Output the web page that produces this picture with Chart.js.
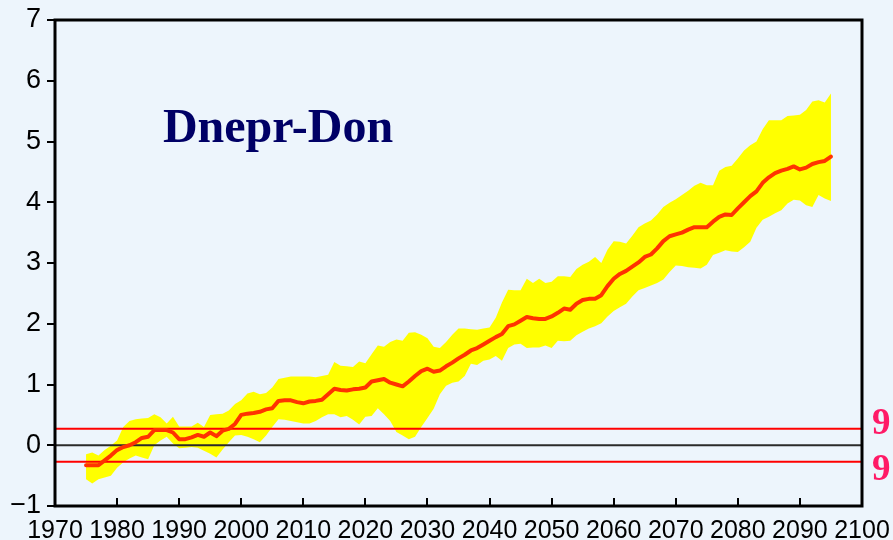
<!DOCTYPE html>
<html><head><meta charset="utf-8">
<script src="https://cdn.jsdelivr.net/npm/chart.js@4/dist/chart.umd.min.js"></script>
<style>html,body{margin:0;padding:0;background:#edf5fc;}#wrap{width:893px;height:540px;}</style>
</head><body><div id="wrap"><canvas id="c" width="893" height="540"></canvas></div>
<script>
const years = [1975,1976,1977,1978,1979,1980,1981,1982,1983,1984,1985,1986,1987,1988,1989,1990,1991,1992,1993,1994,1995,1996,1997,1998,1999,2000,2001,2002,2003,2004,2005,2006,2007,2008,2009,2010,2011,2012,2013,2014,2015,2016,2017,2018,2019,2020,2021,2022,2023,2024,2025,2026,2027,2028,2029,2030,2031,2032,2033,2034,2035,2036,2037,2038,2039,2040,2041,2042,2043,2044,2045,2046,2047,2048,2049,2050,2051,2052,2053,2054,2055,2056,2057,2058,2059,2060,2061,2062,2063,2064,2065,2066,2067,2068,2069,2070,2071,2072,2073,2074,2075,2076,2077,2078,2079,2080,2081,2082,2083,2084,2085,2086,2087,2088,2089,2090,2091,2092,2093,2094,2095];
const meanAnomaly = [-0.33,-0.33,-0.33,-0.25,-0.17,-0.08,-0.03,0.00,0.05,0.12,0.14,0.25,0.25,0.25,0.21,0.10,0.10,0.13,0.17,0.14,0.21,0.15,0.24,0.27,0.35,0.50,0.52,0.53,0.55,0.59,0.61,0.73,0.74,0.74,0.71,0.69,0.72,0.73,0.75,0.84,0.93,0.91,0.90,0.92,0.93,0.95,1.05,1.07,1.09,1.03,1.00,0.97,1.05,1.14,1.22,1.26,1.21,1.23,1.30,1.36,1.43,1.49,1.56,1.60,1.66,1.72,1.78,1.83,1.96,1.99,2.05,2.11,2.09,2.08,2.08,2.12,2.18,2.25,2.23,2.33,2.39,2.41,2.41,2.47,2.62,2.74,2.82,2.87,2.94,3.01,3.10,3.14,3.24,3.36,3.44,3.47,3.50,3.55,3.59,3.59,3.59,3.68,3.76,3.80,3.79,3.90,4.00,4.10,4.18,4.32,4.41,4.48,4.52,4.55,4.59,4.54,4.57,4.63,4.66,4.68,4.75];
const upperBound = [-0.15,-0.12,-0.17,-0.08,-0.01,0.08,0.30,0.40,0.43,0.44,0.45,0.51,0.46,0.36,0.47,0.31,0.31,0.31,0.37,0.30,0.50,0.51,0.52,0.57,0.68,0.74,0.85,0.88,0.84,0.86,0.95,1.09,1.11,1.13,1.13,1.13,1.13,1.12,1.14,1.16,1.37,1.31,1.30,1.29,1.38,1.35,1.50,1.64,1.62,1.70,1.74,1.72,1.85,1.86,1.82,1.76,1.62,1.60,1.70,1.82,1.92,1.92,1.91,1.90,1.92,1.94,2.10,2.35,2.56,2.55,2.55,2.74,2.67,2.74,2.67,2.69,2.78,2.78,2.77,2.90,2.97,3.02,3.10,3.00,3.22,3.36,3.35,3.32,3.45,3.59,3.65,3.70,3.80,3.92,3.99,4.05,4.12,4.19,4.27,4.32,4.28,4.28,4.52,4.58,4.60,4.72,4.85,4.94,5.00,5.20,5.35,5.35,5.35,5.42,5.43,5.44,5.52,5.66,5.68,5.64,5.79];
const lowerBound = [-0.56,-0.63,-0.56,-0.53,-0.50,-0.37,-0.28,-0.22,-0.17,-0.20,-0.23,0.00,0.08,0.14,0.03,-0.05,-0.04,-0.03,-0.04,-0.09,-0.14,-0.20,-0.07,0.05,0.16,0.17,0.14,0.10,0.05,0.16,0.30,0.43,0.42,0.40,0.38,0.36,0.36,0.40,0.46,0.51,0.51,0.46,0.48,0.42,0.34,0.47,0.48,0.61,0.51,0.40,0.22,0.16,0.10,0.14,0.30,0.45,0.60,0.84,0.98,1.03,1.05,1.14,1.34,1.32,1.39,1.41,1.47,1.39,1.60,1.66,1.67,1.60,1.61,1.61,1.64,1.60,1.72,1.71,1.72,1.81,1.87,1.92,1.96,2.01,2.12,2.21,2.27,2.33,2.45,2.55,2.59,2.63,2.67,2.73,2.85,2.96,2.95,2.93,2.92,2.91,2.97,3.13,3.17,3.21,3.19,3.18,3.26,3.35,3.58,3.71,3.76,3.82,3.87,3.98,4.04,4.03,3.95,3.92,4.12,4.06,4.02];
const thresholds = [0.27, -0.27];
const thresholdLabels = ['9', '9'];
const zeroLine = [0];
const xRange = [1970, 2100];
const xTicks = [1970,1980,1990,2000,2010,2020,2030,2040,2050,2060,2070,2080,2090,2100];
const yTicks = [-1,0,1,2,3,4,5,6,7];
const titleText = 'Dnepr-Don';

const pts = arr => years.map((y, i) => ({x: y, y: arr[i]}));
const hline = v => xRange.map(x => ({x: x, y: v}));

const decor = {
  id: 'decor',
  beforeDraw(chart) {
    const ctx = chart.ctx;
    ctx.save();
    ctx.fillStyle = '#edf5fc';
    ctx.fillRect(0, 0, chart.width, chart.height);
    ctx.restore();
  },
  afterDraw(chart) {
    const ctx = chart.ctx, a = chart.chartArea, xs = chart.scales.x, ys = chart.scales.y;
    ctx.save();
    ctx.strokeStyle = '#000';
    ctx.lineWidth = 3;
    ctx.strokeRect(a.left, a.top, a.right - a.left, a.bottom - a.top);
    ctx.lineWidth = 2;
    ctx.beginPath();
    xTicks.forEach(t => {
      const px = Math.round(xs.getPixelForValue(t));
      ctx.moveTo(px, a.bottom);
      ctx.lineTo(px, a.bottom - 8);
    });
    ctx.stroke();
    ctx.fillStyle = '#000066';
    ctx.font = 'bold 48px "Liberation Serif", "Times New Roman", serif';
    ctx.textAlign = 'center';
    ctx.textBaseline = 'alphabetic';
    ctx.fillText(titleText, 278, 142);
    ctx.fillStyle = '#ff1a66';
    ctx.font = 'bold 37px "Liberation Serif", "Times New Roman", serif';
    ctx.textAlign = 'left';
    ctx.fillText(thresholdLabels[0], 872, ys.getPixelForValue(thresholds[0]) + 5);
    ctx.fillText(thresholdLabels[1], 872, ys.getPixelForValue(thresholds[1]) + 18);
    ctx.restore();
  }
};

new Chart(document.getElementById('c'), {
  type: 'line',
  data: {
    datasets: [
      {label: 'upper', data: pts(upperBound), borderWidth: 0, borderColor: 'rgba(0,0,0,0)', backgroundColor: '#ffff00', fill: '+1', pointRadius: 0, order: 5},
      {label: 'lower', data: pts(lowerBound), borderWidth: 0, borderColor: 'rgba(0,0,0,0)', fill: false, pointRadius: 0, order: 6},
      {label: 'zero', data: hline(zeroLine[0]), borderWidth: 2, borderColor: '#2a2a2a', fill: false, pointRadius: 0, order: 2},
      {label: 'thrHi', data: hline(thresholds[0]), borderWidth: 2, borderColor: '#ff0000', fill: false, pointRadius: 0, order: 2},
      {label: 'thrLo', data: hline(thresholds[1]), borderWidth: 2, borderColor: '#ff0000', fill: false, pointRadius: 0, order: 2},
      {label: 'mean', data: pts(meanAnomaly), borderWidth: 4, borderColor: '#ff3300', fill: false, pointRadius: 0, order: 0, borderJoinStyle: 'round', borderCapStyle: 'round'}
    ]
  },
  options: {
    responsive: false,
    animation: false,
    devicePixelRatio: 1,
    layout: {padding: {top: 20, right: 31, left: 0, bottom: 0}},
    plugins: {legend: {display: false}, tooltip: {enabled: false}},
    elements: {line: {tension: 0}},
    scales: {
      x: {
        type: 'linear', min: xRange[0], max: xRange[1],
        afterBuildTicks: s => { s.ticks = xTicks.map(v => ({value: v})); },
        afterFit: s => { s.height = 34; s.paddingRight = 0; s.paddingLeft = 0; },
        grid: {drawOnChartArea: false, drawTicks: false},
        border: {display: false},
        ticks: {color: '#000', padding: 10, maxRotation: 0, autoSkip: false,
          font: {family: '"Liberation Sans", Arial, sans-serif', size: 25},
          callback: v => String(v)}
      },
      y: {
        type: 'linear', min: -1, max: 7,
        afterBuildTicks: s => { s.ticks = yTicks.map(v => ({value: v})); },
        afterFit: s => { s.width = 55; s.paddingTop = 0; s.paddingBottom = 0; },
        grid: {drawOnChartArea: false, drawTicks: true, tickLength: 8, color: '#000', lineWidth: 2},
        border: {display: false},
        ticks: {color: '#000', padding: 6,
          font: {family: '"Liberation Sans", Arial, sans-serif', size: 27},
          callback: v => v < 0 ? '\u2212' + Math.abs(v) : String(v)}
      }
    }
  },
  plugins: [decor]
});
</script></body></html>
